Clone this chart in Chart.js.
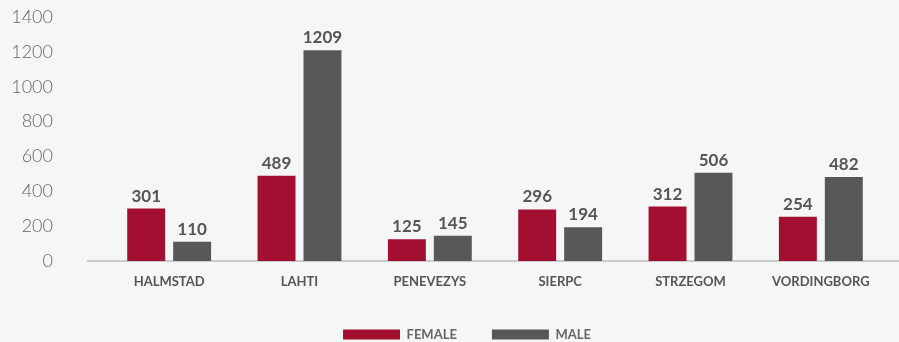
<!DOCTYPE html>
<html lang="en">
<head>
  <meta charset="UTF-8" />
  <title>Female / male by city</title>
  <script src="https://cdn.jsdelivr.net/npm/chart.js"></script>
  <style>
    html, body { margin: 0; padding: 0; background: #f5f7f7; }
    .wrap { width: 899px; height: 342px; }
  </style>
</head>
<body>
  <div class="wrap"><canvas id="chart" width="899" height="342"></canvas></div>

  <script>
    const cities = ['HALMSTAD', 'LAHTI', 'PENEVEZYS', 'SIERPC', 'STRZEGOM', 'VORDINGBORG'];
    const female = [301, 489, 125, 296, 312, 254];
    const male = [110, 1209, 145, 194, 506, 482];
    const yTicks = [0, 200, 400, 600, 800, 1000, 1200, 1400];

    // numbers above each bar
    const barValues = {
      id: 'barValues',
      afterDatasetsDraw(chart) {
        const ctx = chart.ctx;
        ctx.save();
        ctx.font = 'bold 17px Lato';
        ctx.fillStyle = '#555555';
        ctx.textAlign = 'center';
        ctx.textBaseline = 'bottom';
        chart.data.datasets.forEach((ds, i) => {
          chart.getDatasetMeta(i).data.forEach((bar, j) => {
            ctx.fillText(ds.data[j], bar.x, bar.y - 4);
          });
        });
        ctx.restore();
      }
    };

    // baseline runs a little past the plot on both sides
    const baseline = {
      id: 'baseline',
      beforeDatasetsDraw(chart) {
        const ctx = chart.ctx;
        const y = chart.scales.y.getPixelForValue(0);
        ctx.save();
        ctx.strokeStyle = '#b8bcbc';
        ctx.lineWidth = 1.5;
        ctx.beginPath();
        ctx.moveTo(chart.chartArea.left - 17, y);
        ctx.lineTo(chart.width, y);
        ctx.stroke();
        ctx.restore();
      }
    };

    // legend sits a bit right of centre
    const legendShift = {
      id: 'legendShift',
      afterLayout(chart) {
        chart.legend.left += 24;
        chart.legend.right += 24;
      }
    };

    new Chart(document.getElementById('chart'), {
      type: 'bar',
      data: {
        labels: cities,
        datasets: [
          { label: 'FEMALE', data: female, backgroundColor: '#a30f31' },
          { label: 'MALE', data: male, backgroundColor: '#58585a' }
        ]
      },
      options: {
        responsive: false,
        animation: false,
        layout: { padding: { top: 17, right: 13, left: 0, bottom: -9 } },
        datasets: { bar: { categoryPercentage: 0.705, barPercentage: 0.826 } },
        plugins: {
          legend: {
            position: 'bottom',
            labels: {
              boxWidth: 57,
              boxHeight: 10,
              padding: 35,
              color: '#666666',
              font: { family: 'Lato', size: 13, weight: 'bold' }
            }
          },
          tooltip: { enabled: false }
        },
        scales: {
          x: {
            grid: { display: false, drawTicks: false },
            border: { display: false },
            afterFit: s => { s.height = 32; },
            ticks: {
              padding: 13,
              color: '#555555',
              font: { family: 'Lato', size: 13, weight: 'bold' }
            }
          },
          y: {
            min: 0,
            max: 1400,
            // tick marks stay hidden; their length only moves the labels left
            grid: { display: false, drawTicks: true, tickLength: 51 },
            border: { display: false },
            afterFit: s => { s.width = 104; },
            afterBuildTicks: s => { s.ticks = yTicks.map(v => ({ value: v })); },
            ticks: {
              padding: 0,
              color: '#666666',
              callback: v => String(v),
              font: { family: 'Lato', size: 18, weight: 300 }
            }
          }
        }
      },
      plugins: [barValues, baseline, legendShift]
    });
  </script>
</body>
</html>
